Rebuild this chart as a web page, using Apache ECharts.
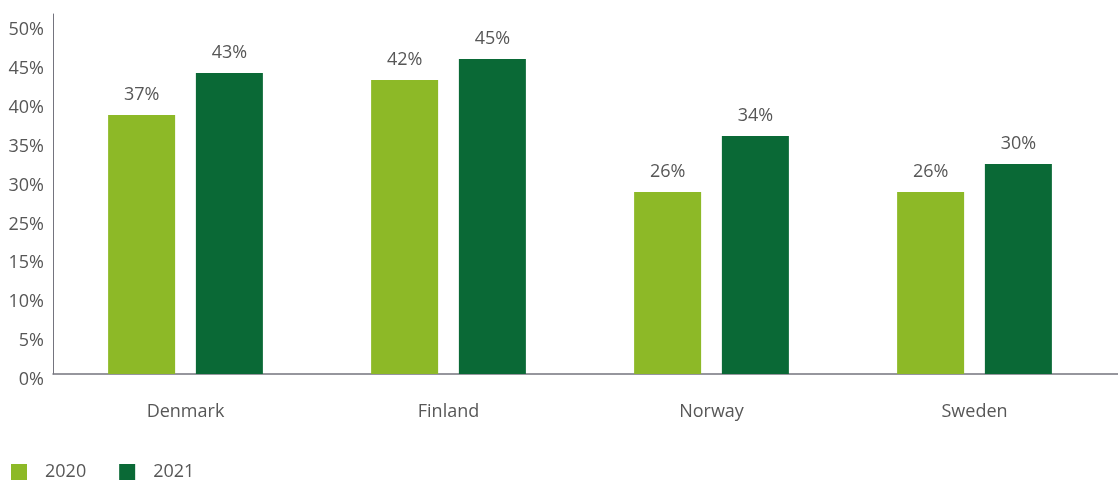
<!DOCTYPE html>
<html>
<head>
<meta charset="utf-8">
<script src="https://cdn.jsdelivr.net/npm/echarts@6/dist/echarts.min.js"></script>
<style>
  html, body { margin: 0; padding: 0; background: #ffffff; }
  #chart { width: 1118px; height: 486px; }
</style>
</head>
<body>
<div id="chart"></div>
<script>
// Countries on the category axis
const countries = ['Denmark', 'Finland', 'Norway', 'Sweden'];
// Share per country, in percent
const values2020 = [37, 42, 26, 26];
const values2021 = [43, 45, 34, 30];
const seriesNames = ['2020', '2021'];
// Value-axis labels, one per evenly spaced tick
const yTickLabels = ['0%', '5%', '10%', '15%', '25%', '30%', '35%', '40%', '45%', '50%'];

const FONT = '"Open Sans", "DejaVu Sans", sans-serif';
const TEXT = '#575757';
const LIGHT = '#8db927';
const DARK = '#0a6936';

const yTop = 50;
const step = yTop / (yTickLabels.length - 1);
const yMax = 51.43;

const chart = echarts.init(document.getElementById('chart'), null, { renderer: 'canvas' });

const barLabel = {
  show: true,
  position: 'top',
  distance: 11,
  color: TEXT,
  fontFamily: FONT,
  fontSize: 18,
  formatter: p => p.value + '%'
};

chart.setOption({
  animation: false,
  backgroundColor: '#ffffff',
  textStyle: { fontFamily: FONT },
  grid: [
    { left: 53, right: 0, top: 14, bottom: 112 },
    { left: 54, right: 12, top: 14, bottom: 112 }
  ],
  xAxis: [
    {
      gridIndex: 0,
      type: 'category',
      data: countries,
      axisLine: { show: true, lineStyle: { color: '#74747e', width: 1.5 } },
      axisTick: { show: false },
      axisLabel: { show: false },
      splitLine: { show: false }
    },
    {
      gridIndex: 1,
      type: 'category',
      data: countries,
      axisLine: { show: false },
      axisTick: { show: false },
      axisLabel: { color: TEXT, fontFamily: FONT, fontSize: 18, margin: 29 },
      splitLine: { show: false }
    }
  ],
  yAxis: [
    {
      gridIndex: 0,
      type: 'value',
      min: 0,
      max: yMax,
      interval: step,
      axisLine: { show: true, lineStyle: { color: '#74747e', width: 1 } },
      axisTick: { show: false },
      splitLine: { show: false },
      axisLabel: {
        color: TEXT,
        fontFamily: FONT,
        fontSize: 18,
        margin: 9,
        verticalAlign: 'top',
        lineHeight: 12,
        showMaxLabel: false,
        formatter: v => {
          const i = Math.round(v / step);
          if (Math.abs(v - i * step) > 0.01 || i >= yTickLabels.length) return '';
          return yTickLabels[i];
        }
      }
    },
    {
      gridIndex: 1,
      type: 'value',
      min: 0,
      max: yMax,
      show: false,
      splitLine: { show: false }
    }
  ],
  legend: {
    left: 6,
    top: 458,
    itemWidth: 16,
    itemHeight: 16,
    itemGap: 33,
    icon: 'rect',
    textStyle: { color: TEXT, fontFamily: FONT, fontSize: 18, padding: [0, 0, 0, 13] },
    data: seriesNames
  },
  series: [
    {
      name: seriesNames[0],
      type: 'bar',
      xAxisIndex: 1,
      yAxisIndex: 1,
      data: values2020,
      barWidth: 67,
      barGap: '31%',
      itemStyle: { color: LIGHT },
      label: barLabel
    },
    {
      name: seriesNames[1],
      type: 'bar',
      xAxisIndex: 1,
      yAxisIndex: 1,
      data: values2021,
      barWidth: 67,
      barGap: '31%',
      itemStyle: { color: DARK },
      label: barLabel
    }
  ]
});
</script>
</body>
</html>
